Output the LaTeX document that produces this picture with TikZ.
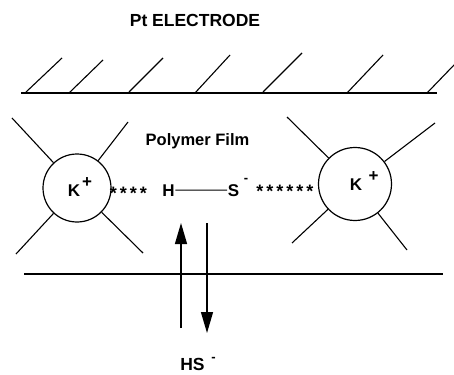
\documentclass[tikz,border=0pt]{standalone}
\usepackage{fontspec}
\setmainfont{Liberation Sans}
\usetikzlibrary{arrows.meta}
\begin{document}
\begin{tikzpicture}[x=1pt,y=-1pt,
  ln/.style={line width=1.1pt},
  ring/.style={circle,draw,line width=1.2pt,inner sep=0pt},
  txt/.style={font=\bfseries\fontsize{17}{19}\selectfont,inner sep=0.5pt,anchor=base},
  big/.style={font=\bfseries\fontsize{17.5}{20}\selectfont,inner sep=0.5pt,anchor=base},
  mid/.style={font=\bfseries\fontsize{16.5}{19}\selectfont,inner sep=0.5pt,anchor=base},
  sup/.style={font=\bfseries\fontsize{13}{14}\selectfont,inner sep=0pt,anchor=base},
  stars/.style={font=\bfseries\fontsize{18}{20}\selectfont,inner sep=0pt,anchor=base},
  arr/.style={line width=1.3pt,-{Triangle[length=21pt,width=12pt]}}]
\useasboundingbox (0,0) rectangle (454,374);

% title
\node[big] (title) at (195,27) {Pt ELECTRODE};

% electrode surface with hatching
\coordinate (e0) at (21,93);
\coordinate (e1) at (437,93);
\draw[ln] (e0) -- (e1);
\foreach \i/\a/\b/\c/\d in {1/25/93/62/58, 2/69/93/103/60, 3/129/92/163/58, 4/195/93/230/55,
                            5/263/92/302/53, 6/347/93/383/55, 7/427/93/454/65}{
  \coordinate (h\i a) at (\a,\b);
  \coordinate (h\i b) at (\c,\d);
  \draw[ln] (h\i a) -- (h\i b);
}

% film label
\node[mid] (film) at (197.5,145.5) {Polymer Film};

% bottom film boundary
\coordinate (f0) at (24,274);
\coordinate (f1) at (443,274);
\draw[ln] (f0) -- (f1);

% left cation
\node[ring,minimum size=68pt] (kl) at (77,188) {};
\coordinate (l1) at (12,118);
\coordinate (l2) at (128,122);
\coordinate (l3) at (16,254);
\coordinate (l4) at (143,253);
\foreach \p in {l1,l2,l3,l4} \draw[ln] (kl) -- (\p);
\node[txt] (kL) at (74,196) {K};
\node[txt] (pL) at (87,187) {+};

% right cation
\node[ring,minimum size=73pt] (kr) at (355,184) {};
\coordinate (r1) at (287,117);
\coordinate (r2) at (435,123);
\coordinate (r3) at (292,243);
\coordinate (r4) at (407,250);
\foreach \p in {r1,r2,r3,r4} \draw[ln] (kr) -- (\p);
\node[txt] (kR) at (356,190.5) {K};
\node[txt] (pR) at (373.5,181) {+};

% H-S bond
\node[txt] (h) at (168.5,196) {H};
\node[txt] (s) at (233.5,196) {S};
\node[sup] (sm) at (246,182.5) {-};
\draw[line width=1pt] (h) -- (s);

% ion-pair interactions
\node[stars] (stL) at (128.5,199.5) {*\kern3pt*\kern3pt*\kern3pt*};
\node[stars] (stR) at (285,197) {*\kern3pt*\kern3pt*\kern3pt*\kern3pt*\kern3pt*};

% exchange arrows
\coordinate (ua) at (181,328);
\coordinate (ub) at (181,223);
\coordinate (da) at (207,223);
\coordinate (db) at (207,333);
\draw[arr] (ua) -- (ub);
\draw[arr] (da) -- (db);

% HS- label
\node[big] (hs) at (192.5,370.5) {HS};
\node[sup] (hsm) at (213.5,361) {-};
\end{tikzpicture}
\end{document}
